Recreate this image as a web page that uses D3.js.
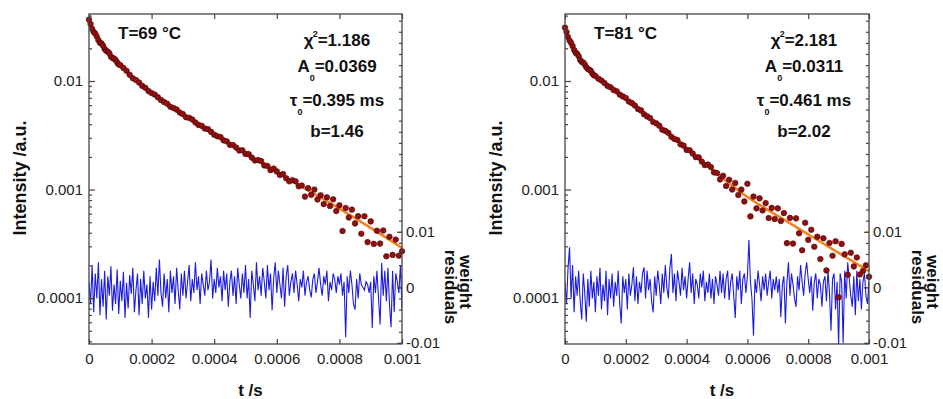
<!DOCTYPE html>
<head>
  <meta charset="utf-8">
  <script src="https://d3js.org/d3.v7.min.js"></script>
  <style>
    body { margin:0; background:#fff; }
    svg { font-family: "Liberation Sans", Arial, Helvetica, sans-serif; }
    .tick line { stroke:#444; stroke-width:1.2; }
    .tick text { font-size:15px; fill:#222; }
    .lbl { font-weight:bold; fill:#111; }
  </style>
</head>
<body>
<script>
// ---- data ----
// scatter times: 5 us steps up to 0.095 ms, then 10 us steps to 1 ms
var tScatter = d3.range(111).map(function(i) { return i < 20 ? i * 5e-6 : (i - 10) * 1e-5; });
var tResid = d3.range(201).map(function(i) { return i * 5e-6; });
var fitTimes = [0, 1e-5, 2e-5, 3e-5, 5e-5, 7.5e-5, 1e-4, 1.5e-4, 2e-4, 3e-4, 4e-4, 5e-4, 6e-4, 7e-4, 8e-4, 9e-4, 1e-3];

var intensity69 = [
  3.67e-2, 3.34e-2, 3.02e-2, 2.83e-2, 2.73e-2, 2.57e-2, 2.38e-2, 2.25e-2, 2.22e-2, 2.11e-2,
  1.97e-2, 1.90e-2, 1.86e-2, 1.80e-2, 1.68e-2, 1.63e-2, 1.61e-2, 1.56e-2, 1.48e-2, 1.42e-2, 1.40e-2,
  1.32e-2, 1.24e-2, 1.14e-2, 1.06e-2, 1.02e-2, 9.68e-3, 9.02e-3, 8.65e-3, 8.07e-3, 7.74e-3,
  7.50e-3, 7.08e-3, 6.67e-3, 6.40e-3, 6.18e-3, 5.79e-3, 5.64e-3, 5.45e-3, 5.12e-3, 4.95e-3,
  4.63e-3, 4.57e-3, 4.42e-3, 4.15e-3, 3.94e-3, 3.86e-3, 3.65e-3, 3.60e-3, 3.40e-3, 3.20e-3,
  3.10e-3, 3.05e-3, 2.84e-3, 2.78e-3, 2.58e-3, 2.57e-3, 2.44e-3, 2.29e-3, 2.30e-3, 2.13e-3,
  2.12e-3, 1.97e-3, 1.85e-3, 1.87e-3, 1.83e-3, 1.67e-3, 1.65e-3, 1.51e-3, 1.56e-3, 1.47e-3,
  1.36e-3, 1.39e-3, 1.27e-3, 1.19e-3, 1.22e-3, 1.19e-3, 1.07e-3, 1.09e-3, 8.61e-4, 1.03e-3,
  8.95e-4, 1.00e-3, 8.11e-4, 8.85e-4, 7.35e-4, 8.49e-4, 7.05e-4, 8.13e-4, 6.35e-4, 7.16e-4,
  4.15e-4, 6.76e-4, 5.53e-4, 6.53e-4, 4.88e-4, 5.69e-4, 3.92e-4, 5.68e-4, 3.28e-4, 5.09e-4,
  3.16e-4, 4.17e-4, 3.18e-4, 4.20e-4, 2.43e-4, 3.68e-4, 2.50e-4, 3.46e-4, 2.46e-4, 2.70e-4
];
var intensity81 = [
  3.10e-2, 2.83e-2, 2.54e-2, 2.36e-2, 2.25e-2, 2.10e-2, 1.93e-2, 1.82e-2, 1.78e-2, 1.69e-2,
  1.56e-2, 1.50e-2, 1.48e-2, 1.42e-2, 1.34e-2, 1.29e-2, 1.27e-2, 1.24e-2, 1.17e-2, 1.13e-2, 1.11e-2,
  1.05e-2, 1.01e-2, 9.57e-3, 8.99e-3, 8.75e-3, 8.26e-3, 8.04e-3, 7.50e-3, 7.21e-3, 6.98e-3,
  6.47e-3, 6.25e-3, 5.94e-3, 5.52e-3, 5.36e-3, 4.94e-3, 4.72e-3, 4.56e-3, 4.19e-3, 4.07e-3,
  3.88e-3, 3.56e-3, 3.47e-3, 3.33e-3, 3.06e-3, 2.92e-3, 2.86e-3, 2.61e-3, 2.54e-3, 2.32e-3,
  2.30e-3, 2.15e-3, 1.99e-3, 1.98e-3, 1.81e-3, 1.68e-3, 1.70e-3, 1.61e-3, 1.44e-3, 1.42e-3,
  1.24e-3, 1.34e-3, 1.08e-3, 1.23e-3, 1.00e-3, 1.15e-3, 8.91e-4, 1.00e-3, 7.78e-4, 1.13e-3,
  5.66e-4, 8.61e-4, 6.71e-4, 8.30e-4, 6.41e-4, 7.50e-4, 5.47e-4, 6.78e-4, 5.36e-4, 6.71e-4,
  5.13e-4, 6.07e-4, 3.21e-4, 5.48e-4, 3.18e-4, 5.43e-4, 3.96e-4, 2.76e-4, 4.94e-4, 3.44e-4,
  4.27e-4, 2.97e-4, 3.68e-4, 2.29e-4, 3.56e-4, 1.80e-4, 3.22e-4, 2.46e-4, 3.34e-4, 1.02e-4,
  3.16e-4, 2.53e-4, 1.64e-4, 2.62e-4, 1.96e-4, 2.37e-4, 1.65e-4, 1.78e-4, 2.01e-4, 1.57e-4
];

var fit69 = [3.63e-2, 3.08e-2, 2.69e-2, 2.40e-2, 2.00e-2, 1.65e-2, 1.40e-2, 1.02e-2, 7.76e-3, 4.93e-3, 3.25e-3, 2.15e-3, 1.45e-3, 9.84e-4, 6.68e-4, 4.44e-4, 2.90e-4];
var fit81 = [3.08e-2, 2.57e-2, 2.21e-2, 1.95e-2, 1.59e-2, 1.31e-2, 1.12e-2, 8.69e-3, 6.90e-3, 4.05e-3, 2.38e-3, 1.40e-3, 8.55e-4, 5.71e-4, 3.86e-4, 2.61e-4, 1.77e-4];

var resid69 = [
  0.0010, -0.0030, 0.0040, -0.0045, 0.0025, -0.0020, 0.0045, -0.0050, 0.0015, -0.0035,
  0.0030, -0.0058, 0.0020, -0.0015, 0.0038, -0.0042, 0.0005, -0.0030, 0.0032, -0.0048,
  0.0012, -0.0025, 0.0028, -0.0055, 0.0008, -0.0038, 0.0022, -0.0012, 0.0035, -0.0045,
  -0.0005, 0.0025, -0.0050, 0.0015, -0.0030, 0.0030, -0.0020, 0.0005, -0.0055, 0.0020,
  -0.0040, 0.0010, -0.0025, 0.0035, -0.0015, 0.0050, -0.0010, -0.0035, 0.0025, -0.0020,
  0.0015, -0.0045, 0.0030, -0.0010, 0.0020, -0.0030, 0.0035, -0.0005, -0.0040, 0.0025,
  -0.0015, 0.0030, -0.0020, 0.0010, 0.0040, -0.0025, 0.0015, -0.0010, 0.0045, -0.0005,
  0.0020, -0.0030, 0.0025, 0.0005, -0.0015, 0.0030, -0.0005, 0.0010, 0.0050, -0.0020,
  0.0015, -0.0010, 0.0035, 0.0000, 0.0020, -0.0025, 0.0030, -0.0005, 0.0025, -0.0035,
  0.0010, 0.0030, -0.0015, 0.0020, -0.0030, 0.0035, 0.0005, -0.0020, 0.0025, -0.0010,
  0.0040, -0.0020, 0.0015, -0.0055, 0.0030, 0.0005, -0.0025, 0.0045, -0.0005, 0.0020,
  -0.0015, 0.0035, 0.0010, -0.0020, 0.0040, -0.0005, 0.0025, -0.0041, 0.0015, 0.0045,
  -0.0010, 0.0030, 0.0005, -0.0020, 0.0035, -0.0035, 0.0020, 0.0040, -0.0015, 0.0010,
  0.0025, -0.0010, 0.0030, 0.0005, -0.0025, 0.0015, 0.0000, 0.0030, -0.0015, 0.0010,
  0.0020, -0.0005, -0.0018, 0.0015, 0.0025, -0.0010, 0.0010, 0.0035, 0.0005, -0.0015,
  0.0020, 0.0005, 0.0030, -0.0025, 0.0010, -0.0005, 0.0025, 0.0015, -0.0010, 0.0020,
  0.0005, 0.0025, -0.0015, 0.0010, -0.0090, 0.0020, -0.0010, 0.0030, 0.0005, -0.0030,
  -0.0040, 0.0015, -0.0020, 0.0025, 0.0005, 0.0000, -0.0005, 0.0010, 0.0005, -0.0010,
  0.0010, -0.0073, 0.0020, -0.0010, 0.0030, -0.0020, -0.0067, 0.0044, -0.0015, 0.0030,
  -0.0025, 0.0035, -0.0030, -0.0072, 0.0030, -0.0045, 0.0025, 0.0010, -0.0010, 0.0040,
  -0.0040
];
var resid81 = [
  0.0010, -0.0030, 0.0035, 0.0072, -0.0020, 0.0040, -0.0045, 0.0020, -0.0015, 0.0030,
  -0.0025, -0.0058, 0.0025, -0.0010, -0.0062, 0.0015, -0.0035, 0.0030, -0.0020, 0.0010,
  -0.0045, 0.0020, -0.0015, 0.0035, -0.0040, 0.0005, -0.0025, 0.0030, -0.0050, 0.0015,
  -0.0020, 0.0025, -0.0035, 0.0010, -0.0015, 0.0030, -0.0030, -0.0065, 0.0020, -0.0010,
  0.0015, -0.0040, 0.0025, -0.0015, 0.0005, 0.0036, -0.0025, 0.0020, -0.0030, 0.0010,
  -0.0010, 0.0025, 0.0036, -0.0020, 0.0030, -0.0005, 0.0015, -0.0025, -0.0045, 0.0020,
  -0.0015, 0.0030, 0.0005, -0.0030, 0.0025, -0.0010, 0.0040, 0.0000, -0.0020, 0.0035,
  0.0060, -0.0010, 0.0025, -0.0025, 0.0030, 0.0010, -0.0015, 0.0035, -0.0005, 0.0020,
  -0.0020, 0.0015, 0.0045, -0.0010, 0.0025, -0.0030, 0.0015, 0.0005, -0.0020, 0.0025,
  0.0000, 0.0030, -0.0025, 0.0010, -0.0010, 0.0025, -0.0020, 0.0015, -0.0030, 0.0020,
  0.0005, -0.0015, 0.0030, -0.0010, 0.0025, -0.0020, 0.0015, 0.0030, -0.0023, 0.0010,
  0.0025, -0.0015, -0.0055, 0.0020, -0.0005, 0.0030, -0.0030, 0.0015, 0.0025, -0.0010,
  0.0020, 0.0085, 0.0010, -0.0020, -0.0087, 0.0015, -0.0010, 0.0030, 0.0005, -0.0025,
  0.0020, -0.0005, 0.0025, -0.0015, 0.0010, 0.0030, -0.0020, 0.0015, -0.0005, 0.0020,
  -0.0010, 0.0015, -0.0054, 0.0005, 0.0020, -0.0065, 0.0010, 0.0045, -0.0015, 0.0025,
  0.0005, -0.0020, -0.0035, 0.0020, -0.0005, 0.0040, 0.0010, -0.0015, 0.0025, 0.0045,
  0.0015, -0.0010, 0.0020, -0.0042, 0.0010, 0.0025, -0.0020, 0.0015, 0.0005, -0.0035,
  0.0010, 0.0020, -0.0025, 0.0030, -0.0010, -0.0078, 0.0015, 0.0025, -0.0040, 0.0010,
  -0.0106, 0.0025, 0.0010, -0.0100, 0.0030, -0.0020, 0.0045, 0.0015, -0.0015, -0.0035,
  0.0020, -0.0050, 0.0030, -0.0025, 0.0015, -0.0040, 0.0010, 0.0025, -0.0015, -0.0030,
  0.0010
];

var xTicks = [0, 0.0002, 0.0004, 0.0006, 0.0008, 0.001];
var xTickLabels = ["0", "0.0002", "0.0004", "0.0006", "0.0008", "0.001"];
var logTicks = [1e-4, 1e-3, 1e-2];
var logTickLabels = ["0.0001", "0.001", "0.01"];
var residTicks = [-0.01, 0, 0.01];
var residTickLabels = ["-0.01", "0", "0.01"];

var temps = ["T=69 \u00B0C", "T=81 \u00B0C"];
var chi2 = ["1.186", "2.181"];
var amp0 = ["0.0369", "0.0311"];
var tau0 = ["0.395 ms", "0.461 ms"];
var bValues = ["1.46", "2.02"];

// ---- layout ----
var width = 943, height = 399;
var plotTop = 14, plotBottom = 344;
var frames = [{ left: 89, right: 402 }, { left: 565, right: 869 }];

var svg = d3.select("body").append("svg")
  .attr("width", width)
  .attr("height", height);

var series = [
  { scatter: intensity69, fit: fit69, resid: resid69 },
  { scatter: intensity81, fit: fit81, resid: resid81 }
];

series.forEach(function(s, k) {
  var f = frames[k];
  var g = svg.append("g");

  var x = d3.scaleLinear().domain([0, 0.001]).range([f.left, f.right]);
  var y = d3.scaleLog().domain([3.78e-5, 0.0414]).range([plotBottom, plotTop]);
  var yr = d3.scaleLinear().domain([-0.0102, 0.0492]).range([plotBottom, plotTop]);

  svg.append("clipPath").attr("id", "clip" + k)
    .append("rect")
    .attr("x", f.left).attr("y", plotTop)
    .attr("width", f.right - f.left).attr("height", plotBottom - plotTop);

  // residuals
  g.append("path")
    .datum(s.resid)
    .attr("clip-path", "url(#clip" + k + ")")
    .attr("fill", "none")
    .attr("stroke", "#1c1ce0")
    .attr("stroke-width", 1.1)
    .attr("d", d3.line()
      .x(function(d, i) { return x(tResid[i]); })
      .y(function(d) { return yr(d); }));

  // fit curve
  g.append("path")
    .datum(s.fit)
    .attr("fill", "none")
    .attr("stroke", "#f08420")
    .attr("stroke-width", 2.6)
    .attr("d", d3.line()
      .curve(d3.curveMonotoneX)
      .x(function(d, i) { return x(fitTimes[i]); })
      .y(function(d) { return y(d); }));

  // data points
  g.selectAll(".pt")
    .data(s.scatter)
    .enter()
    .append("circle")
    .attr("class", "pt")
    .attr("cx", function(d, i) { return x(tScatter[i]); })
    .attr("cy", function(d) { return y(d); })
    .attr("r", 2.8)
    .attr("fill", "#8e1010")
    .attr("stroke", "#560404")
    .attr("stroke-width", 0.6);

  // frame
  g.append("rect")
    .attr("x", f.left).attr("y", plotTop)
    .attr("width", f.right - f.left).attr("height", plotBottom - plotTop)
    .attr("fill", "none")
    .attr("stroke", "#444")
    .attr("stroke-width", 1.3);

  // log minor ticks
  var minors = [];
  [1e-5, 1e-4, 1e-3, 1e-2].forEach(function(dec) {
    d3.range(2, 10).forEach(function(m) {
      var v = m * dec;
      if (v > 3.78e-5 && v < 0.0414) minors.push(v);
    });
  });

  g.append("g")
    .attr("transform", "translate(" + f.left + ",0)")
    .call(d3.axisLeft(y).tickValues(logTicks)
      .tickFormat(function(d, i) { return logTickLabels[i]; })
      .tickSize(-6).tickPadding(6))
    .call(function(a) { a.select(".domain").remove(); });
  g.append("g")
    .attr("transform", "translate(" + f.left + ",0)")
    .call(d3.axisLeft(y).tickValues(minors).tickFormat("").tickSize(-3))
    .call(function(a) { a.select(".domain").remove(); });

  g.append("g")
    .attr("transform", "translate(0," + plotBottom + ")")
    .call(d3.axisBottom(x).tickValues(xTicks)
      .tickFormat(function(d, i) { return xTickLabels[i]; })
      .tickSize(-5).tickPadding(9))
    .call(function(a) { a.select(".domain").remove(); });
  g.append("g")
    .attr("transform", "translate(0," + plotTop + ")")
    .call(d3.axisTop(x).tickValues(xTicks).tickFormat("").tickSize(-5))
    .call(function(a) { a.select(".domain").remove(); });

  var rMinor = d3.range(-10, 50, 2).map(function(v) { return v / 1000; });
  g.append("g")
    .attr("transform", "translate(" + f.right + ",0)")
    .call(d3.axisRight(yr).tickValues(rMinor).tickFormat("").tickSize(-3))
    .call(function(a) { a.select(".domain").remove(); });
  g.append("g")
    .attr("transform", "translate(" + f.right + ",0)")
    .call(d3.axisRight(yr).tickValues(residTicks)
      .tickFormat(function(d, i) { return residTickLabels[i]; })
      .tickSize(-5).tickPadding(4))
    .call(function(a) { a.select(".domain").remove(); });

  // axis titles
  g.append("text").attr("class", "lbl")
    .attr("transform", "translate(" + (f.left - 63) + ",178) rotate(-90)")
    .attr("text-anchor", "middle")
    .style("font-size", "18px")
    .text("Intensity /a.u.");
  g.append("text").attr("class", "lbl")
    .attr("x", (f.left + f.right) / 2 + 5).attr("y", 396)
    .attr("text-anchor", "middle")
    .style("font-size", "17px")
    .text("t /s");
  g.append("text").attr("class", "lbl")
    .attr("transform", "translate(" + (f.right + 58) + ",282) rotate(90)")
    .attr("text-anchor", "middle")
    .style("font-size", "17px")
    .text("weight");
  g.append("text").attr("class", "lbl")
    .attr("transform", "translate(" + (f.right + 43) + ",287) rotate(90)")
    .attr("text-anchor", "middle")
    .style("font-size", "17px")
    .text("residuals");

  // annotations
  g.append("text").attr("class", "lbl")
    .attr("x", f.left + 29).attr("y", 39)
    .style("font-size", "17px")
    .text(temps[k]);

  var cx = f.right - 65;
  var t1 = g.append("text").attr("class", "lbl").attr("x", cx).attr("y", 46)
    .attr("text-anchor", "middle").style("font-size", "17px");
  t1.append("tspan").text("\u03C7");
  t1.append("tspan").attr("dy", -9).attr("dx", -1).style("font-size", "9px").text("2");
  t1.append("tspan").attr("dy", 9).text("=" + chi2[k]);

  var t2 = g.append("text").attr("class", "lbl").attr("x", cx).attr("y", 72)
    .attr("text-anchor", "middle").style("font-size", "17px");
  t2.append("tspan").text("A");
  t2.append("tspan").attr("dy", 9).style("font-size", "9px").text("0");
  t2.append("tspan").attr("dy", -9).text("=" + amp0[k]);

  var t3 = g.append("text").attr("class", "lbl").attr("x", cx).attr("y", 106)
    .attr("text-anchor", "middle").style("font-size", "17px");
  t3.append("tspan").text("\u03C4");
  t3.append("tspan").attr("dy", 9).style("font-size", "9px").text("0");
  t3.append("tspan").attr("dy", -9).text("=" + tau0[k]);

  g.append("text").attr("class", "lbl").attr("x", cx).attr("y", 137)
    .attr("text-anchor", "middle").style("font-size", "17px")
    .text("b=" + bValues[k]);
});
</script>
</body>
